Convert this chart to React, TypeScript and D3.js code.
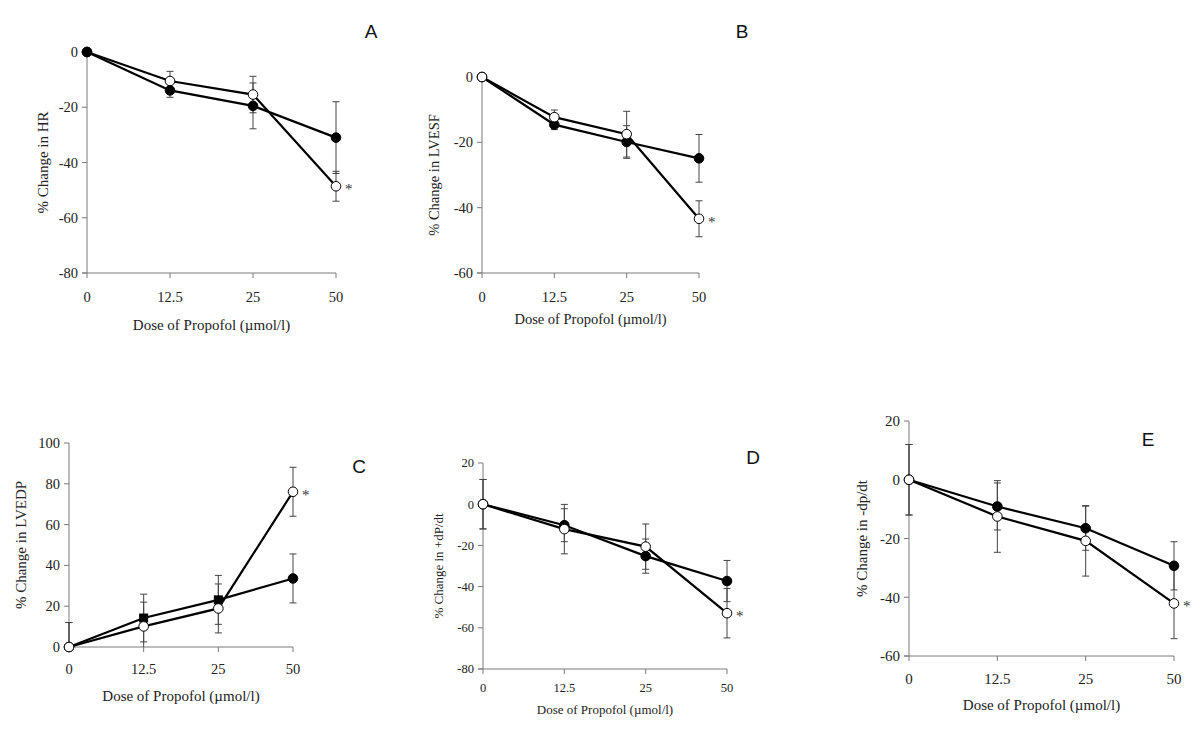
import { useRef, useEffect } from 'react';
import * as d3 from 'd3';

// shared x categories
const DOSES = ['0', '12.5', '25', '50'];

// A: heart rate
const HR_TICKS = [0, -20, -40, -60, -80];
const HR_FILLED = [0, -13.9, -19.5, -31.0];
const HR_FILLED_ERR = [0, 2.5, 8.3, 13];
const HR_OPEN = [0, -10.5, -15.4, -48.6];
const HR_OPEN_ERR = [0, 3.5, 6.6, 5.4];

// B: LVESF
const LVESF_TICKS = [0, -20, -40, -60];
const LVESF_FILLED = [0, -14.6, -19.9, -24.9];
const LVESF_FILLED_ERR = [0, 1.5, 5, 7.3];
const LVESF_OPEN = [0, -12.3, -17.5, -43.4];
const LVESF_OPEN_ERR = [0, 2.2, 7, 5.5];

// C: LVEDP
const LVEDP_TICKS = [0, 20, 40, 60, 80, 100];
const LVEDP_FILLED = [0, 14.2, 23.1, 33.6];
const LVEDP_FILLED_ERR = [12, 11.7, 12, 12];
const LVEDP_FILLED_SHAPES = ['circle', 'square', 'square', 'circle'];
const LVEDP_OPEN = [0, 10.1, 18.9, 76.1];
const LVEDP_OPEN_ERR = [12, 11.9, 12, 12];

// D: +dP/dt
const PDPDT_TICKS = [20, 0, -20, -40, -60, -80];
const PDPDT_FILLED = [0, -10.2, -25.2, -37.3];
const PDPDT_FILLED_ERR = [12, 8, 8.3, 10];
const PDPDT_OPEN = [0, -12.1, -20.6, -52.9];
const PDPDT_OPEN_ERR = [12, 12, 11, 12];

// E: -dp/dt
const NDPDT_TICKS = [20, 0, -20, -40, -60];
const NDPDT_FILLED = [0, -9.1, -16.5, -29.3];
const NDPDT_FILLED_ERR = [12, 8, 7.5, 8.2];
const NDPDT_OPEN = [0, -12.5, -20.8, -42.1];
const NDPDT_OPEN_ERR = [12, 12.2, 12, 12];

const SERIF = '"Liberation Serif", "Times New Roman", serif';
const SANS = '"Liberation Sans", Arial, sans-serif';

const PANELS = [
  {
    letter: 'A', yTitle: '% Change in HR', ticks: HR_TICKS,
    filled: HR_FILLED, filledErr: HR_FILLED_ERR, open: HR_OPEN, openErr: HR_OPEN_ERR, filledOnTop: true,
    x: [87, 336], y: [273, 52], yTitleX: 43, tickY: 302, titleY: 330, letterPos: [371, 38], font: 14.5, titleFont: 15
  },
  {
    letter: 'B', yTitle: '% Change in LVESF', ticks: LVESF_TICKS,
    filled: LVESF_FILLED, filledErr: LVESF_FILLED_ERR, open: LVESF_OPEN, openErr: LVESF_OPEN_ERR,
    x: [482, 699], y: [273, 77], yTitleX: 434, tickY: 302, titleY: 324, letterPos: [742, 38], font: 14.5, titleFont: 14.5
  },
  {
    letter: 'C', yTitle: '% Change in LVEDP', ticks: LVEDP_TICKS,
    filled: LVEDP_FILLED, filledErr: LVEDP_FILLED_ERR, filledShapes: LVEDP_FILLED_SHAPES,
    open: LVEDP_OPEN, openErr: LVEDP_OPEN_ERR,
    x: [69, 293], y: [647, 443], yTitleX: 21, tickY: 674, titleY: 701, letterPos: [359, 473], font: 14.5, titleFont: 15
  },
  {
    letter: 'D', yTitle: '% Change in +dP/dt', ticks: PDPDT_TICKS,
    filled: PDPDT_FILLED, filledErr: PDPDT_FILLED_ERR, open: PDPDT_OPEN, openErr: PDPDT_OPEN_ERR,
    x: [483, 727], y: [669, 463], yTitleX: 438, tickY: 692, titleY: 714, letterPos: [753, 464], font: 12.5, titleFont: 13
  },
  {
    letter: 'E', yTitle: '% Change in -dp/dt', ticks: NDPDT_TICKS,
    filled: NDPDT_FILLED, filledErr: NDPDT_FILLED_ERR, open: NDPDT_OPEN, openErr: NDPDT_OPEN_ERR,
    x: [909, 1174], y: [656, 421], yTitleX: 862, tickY: 684, titleY: 710, letterPos: [1148, 446], font: 15, titleFont: 15
  }
];

const AXIS_COLOR = '#7a7a7a';
const ERR_COLOR = '#444';

function drawPanel(svg, p) {
  const g = svg.append('g');
  const x = d3.scalePoint().domain(DOSES).range(p.x);
  const ext = d3.extent(p.ticks);
  const y = d3.scaleLinear().domain(ext).range(p.y);

  // axes
  g.append('line')
    .attr('x1', x(DOSES[0])).attr('x2', x(DOSES[0]))
    .attr('y1', y(ext[0])).attr('y2', y(ext[1]))
    .attr('stroke', AXIS_COLOR).attr('stroke-width', 1);
  g.append('line')
    .attr('x1', x(DOSES[0]) - 5).attr('x2', x(DOSES[DOSES.length - 1]))
    .attr('y1', y(ext[0])).attr('y2', y(ext[0]))
    .attr('stroke', AXIS_COLOR).attr('stroke-width', 1);

  p.ticks.forEach(function (t) {
    g.append('line')
      .attr('x1', x(DOSES[0]) - 5).attr('x2', x(DOSES[0]))
      .attr('y1', y(t)).attr('y2', y(t))
      .attr('stroke', AXIS_COLOR);
    g.append('text')
      .attr('x', x(DOSES[0]) - 9).attr('y', y(t) + p.font * 0.35)
      .attr('text-anchor', 'end')
      .attr('font-family', SERIF).attr('font-size', p.font)
      .attr('fill', '#222')
      .text(t);
  });

  DOSES.forEach(function (d) {
    g.append('line')
      .attr('x1', x(d)).attr('x2', x(d))
      .attr('y1', y(ext[0])).attr('y2', y(ext[0]) + 5)
      .attr('stroke', AXIS_COLOR);
    g.append('text')
      .attr('x', x(d)).attr('y', p.tickY)
      .attr('text-anchor', 'middle')
      .attr('font-family', SERIF).attr('font-size', p.font)
      .attr('fill', '#222')
      .text(d);
  });

  // titles
  g.append('text')
    .attr('x', (p.x[0] + p.x[1]) / 2).attr('y', p.titleY)
    .attr('text-anchor', 'middle')
    .attr('font-family', SERIF).attr('font-size', p.titleFont)
    .attr('fill', '#222')
    .text('Dose of Propofol (\u00B5mol/l)');
  const cy = (p.y[0] + p.y[1]) / 2;
  g.append('text')
    .attr('transform', 'translate(' + p.yTitleX + ',' + cy + ') rotate(-90)')
    .attr('text-anchor', 'middle')
    .attr('dominant-baseline', 'central')
    .attr('font-family', SERIF).attr('font-size', p.titleFont)
    .attr('fill', '#222')
    .text(p.yTitle);
  g.append('text')
    .attr('x', p.letterPos[0]).attr('y', p.letterPos[1])
    .attr('text-anchor', 'middle')
    .attr('font-family', SANS).attr('font-size', 19)
    .attr('fill', '#111')
    .text(p.letter);

  const filled = { vals: p.filled, err: p.filledErr, fill: '#000', shapes: p.filledShapes };
  const open = { vals: p.open, err: p.openErr, fill: '#fff', shapes: null };
  const series = p.filledOnTop ? [open, filled] : [filled, open];

  // error bars, kept inside the y range
  series.forEach(function (s) {
    s.vals.forEach(function (v, i) {
      const e = s.err[i];
      if (!e) return;
      const cx = x(DOSES[i]);
      const lo = Math.max(v - e, ext[0]);
      const hi = Math.min(v + e, ext[1]);
      g.append('line')
        .attr('x1', cx).attr('x2', cx)
        .attr('y1', y(lo)).attr('y2', y(hi))
        .attr('stroke', ERR_COLOR).attr('stroke-width', 1);
      [v - e, v + e].forEach(function (yy) {
        if (yy < ext[0] || yy > ext[1]) return;
        g.append('line')
          .attr('x1', cx - 3.5).attr('x2', cx + 3.5)
          .attr('y1', y(yy)).attr('y2', y(yy))
          .attr('stroke', ERR_COLOR).attr('stroke-width', 1);
      });
    });
  });

  const line = d3.line()
    .x(function (d, i) { return x(DOSES[i]); })
    .y(function (d) { return y(d); });

  series.forEach(function (s) {
    g.append('path')
      .attr('d', line(s.vals))
      .attr('fill', 'none')
      .attr('stroke', '#000')
      .attr('stroke-width', 2.2);
  });

  series.forEach(function (s) {
    s.vals.forEach(function (v, i) {
      const shape = s.shapes ? s.shapes[i] : 'circle';
      if (shape === 'square') {
        g.append('rect')
          .attr('x', x(DOSES[i]) - 4).attr('y', y(v) - 4)
          .attr('width', 8).attr('height', 8)
          .attr('fill', s.fill).attr('stroke', '#000').attr('stroke-width', 1);
      } else {
        g.append('circle')
          .attr('cx', x(DOSES[i])).attr('cy', y(v))
          .attr('r', 4.8)
          .attr('fill', s.fill).attr('stroke', '#000').attr('stroke-width', 1);
      }
    });
  });

  // significance mark on last open point
  const last = p.open.length - 1;
  g.append('text')
    .attr('x', x(DOSES[last]) + 9).attr('y', y(p.open[last]) + 8)
    .attr('font-family', SERIF).attr('font-size', 15)
    .attr('fill', '#333')
    .text('*');
}

export default function App() {
  const svgRef = useRef(null);

  useEffect(function () {
    const svg = d3.select(svgRef.current);
    svg.selectAll('*').remove();
    PANELS.forEach(function (p) { drawPanel(svg, p); });
  }, []);

  return (
    <svg
      ref={svgRef}
      width={1200}
      height={732}
      style={{ position: 'absolute', left: 0, top: 0, background: '#fff' }}
    />
  );
}
